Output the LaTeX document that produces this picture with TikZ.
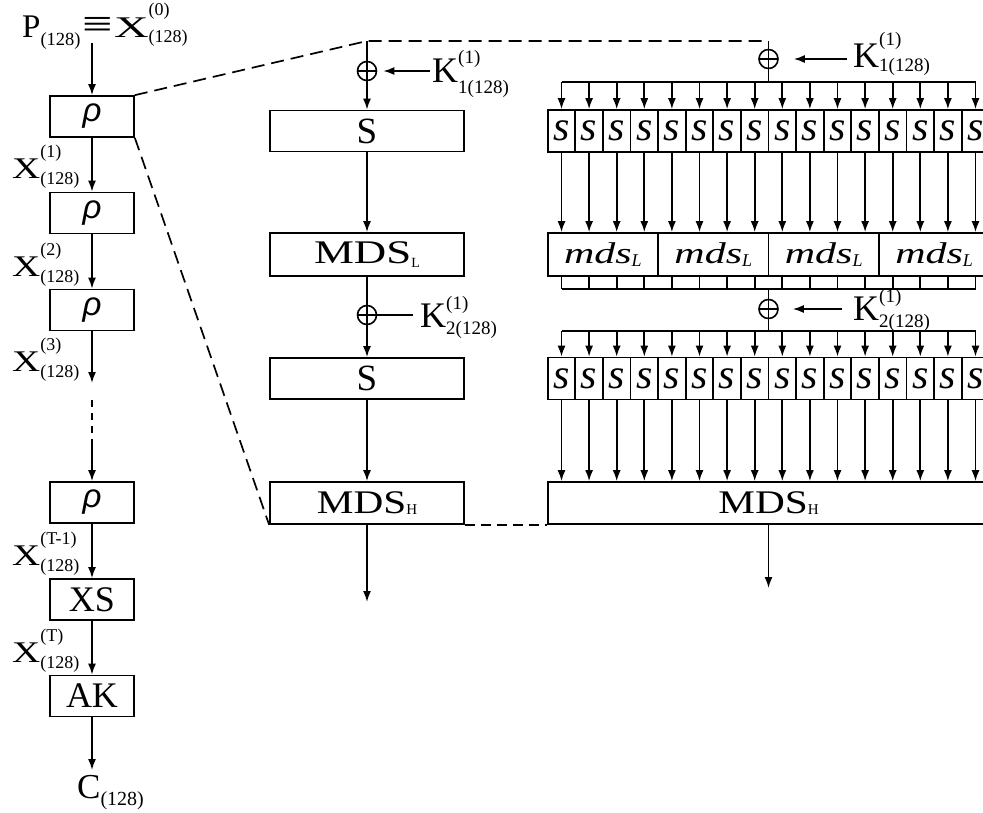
\documentclass[tikz,border=0pt]{standalone}
\usepackage{fontspec}
\setmainfont{Liberation Serif}
\newfontfamily\rhofont{Liberation Sans}
\usetikzlibrary{arrows.meta,calc}
\newcommand\fz[1]{\fontsize{#1}{#1}\selectfont}
% raise, lower, size, sup, sub
\newcommand\supsub[5]{\makebox[0pt][l]{\raisebox{#1}{\fz{#3}#4}}\raisebox{#2}{\fz{#3}#5}}
\newcommand\Xl[1]{{\fz{30}\scalebox{1.3}[1]{X}}\supsub{21pt}{-6pt}{18}{(#1)}{(128)}}
\tikzset{
  ln/.style={line width=1.7pt},
  ar/.style={line width=1.7pt,-{Latex[length=11pt,width=8pt]}},
  dsh/.style={line width=1.7pt,dash pattern=on 13pt off 7pt},
  dshs/.style={line width=1.7pt,dash pattern=on 7pt off 6pt},
  dshm/.style={line width=1.7pt,dash pattern=on 10pt off 6pt},
  box/.style={draw,line width=1.7pt,inner sep=0pt,minimum height=41pt},
  lbox/.style={box,minimum width=84pt},
  mbox/.style={box,minimum width=194pt},
  sbox/.style={box,minimum width=27.6pt,minimum height=42pt,font=\fz{42}\itshape},
  mdsbox/.style={box,minimum width=110.4pt,minimum height=43pt,font=\fz{30}\itshape},
  lab/.style={anchor=base west,inner sep=0pt},
  xo/.style={circle,draw,line width=1.6pt,minimum size=19pt,inner sep=0pt,
    path picture={\draw[line width=1.5pt] (path picture bounding box.north) -- (path picture bounding box.south)
      (path picture bounding box.west) -- (path picture bounding box.east);}}
}
\begin{document}
\begin{tikzpicture}[x=1pt,y=-1pt]
\useasboundingbox (0,0) rectangle (983,812);
\fill[white] (0,0) rectangle (983,812);
\clip (0,0) rectangle (983,812);

% ---------- left column ----------
\node[lab] (P) at (22,37) {\fz{33}P\supsub{0pt}{-8pt}{18.5}{}{(128)}\hspace{2pt}{\fz{40}\scalebox{1.35}[1]{≡}}\hspace{1pt}{\fz{30}\scalebox{1.6}[1]{X}}\supsub{22pt}{-5pt}{18}{(0)}{(128)}};
\coordinate (ptop) at (92,43);
\node[lbox] (rho1) at (92,116.5) {\rhofont\itshape\fz{33}ρ};
\node[lbox] (rho2) at (92,213) {\rhofont\itshape\fz{33}ρ};
\node[lbox] (rho3) at (92,310) {\rhofont\itshape\fz{33}ρ};
\node[lbox] (rho4) at (92,502.5) {\rhofont\itshape\fz{33}ρ};
\node[lbox] (XS) at (92,599.5) {\fz{36}XS};
\node[lbox] (AK) at (92,696) {\fz{36}AK};
\coordinate (e3) at (92,383);
\coordinate (d1) at (92,400);
\coordinate (d2) at (92,445);
\coordinate (cend) at (92,770);

\node[lab] (X1) at (12,178) {\Xl{1}};
\node[lab] (X2) at (12,276) {\Xl{2}};
\node[lab] (X3) at (12,371) {\Xl{3}};
\node[lab] (XT1) at (12,565) {\Xl{T-1}};
\node[lab] (XT) at (12,662) {\Xl{T}};
\node[lab] (C) at (77,798) {\fz{35}C\supsub{0pt}{-7pt}{20}{}{(128)}};

\draw[ar] (ptop) -- (rho1.north);
\draw[ar] (rho1.south) -- (rho2.north);
\draw[ar] (rho2.south) -- (rho3.north);
\draw[ar] (rho3.south) -- (e3);
\draw[dshs] (d1) -- (d2);
\draw[ar] (d2) -- (rho4.north);
\draw[ar] (rho4.south) -- (XS.north);
\draw[ar] (XS.south) -- (AK.north);
\draw[ar] (AK.south) -- (cend);

% ---------- middle column ----------
\coordinate (topM) at (367,41);
\node[xo] (xm1) at (367,71) {};
\node[mbox] (S1) at (367,131) {\fz{37}S};
\node[mbox,minimum height=43pt] (MDSL) at (367,254.5) {\fz{33}\scalebox{1.36}[1]{MDS}\raisebox{-4pt}{\fz{14}L}};
\node[xo] (xm2) at (367,315) {};
\node[mbox] (S2) at (367,378.5) {\fz{37}S};
\node[mbox,minimum height=42pt] (MDSHm) at (367,503) {\fz{33}\scalebox{1.25}[1]{MDS}\raisebox{-1pt}{\fz{15}H}};
\coordinate (outM) at (367,602);

\node[lab] (K1m) at (432,82) {\fz{36}K\supsub{19pt}{-11pt}{19}{(1)}{1(128)}};
\node[lab] (K2m) at (420,327) {\fz{36}K\supsub{18pt}{-7pt}{19}{(1)}{2(128)}};

\draw[ln] (topM) -- (xm1.north);
\draw[ar] (xm1.south) -- (S1.north);
\draw[ar] (S1.south) -- (MDSL.north);
\draw[ln] (MDSL.south) -- (xm2.north);
\draw[ar] (xm2.south) -- (S2.north);
\draw[ar] (S2.south) -- (MDSHm.north);
\draw[ar] (MDSHm.south) -- (outM);
\draw[ar,shorten <=2pt,shorten >=6pt] (K1m.west |- xm1) -- (xm1.east);
\draw[ln,shorten <=7pt] (K2m.west |- xm2) -- (xm2.east);

% ---------- right column ----------
\coordinate (topR) at (768.5,41);
\coordinate (busA) at (768.5,82);
\coordinate (barA) at (768.5,289);
\coordinate (busB) at (768.5,331);
\coordinate (outR) at (768.5,588);
\node[xo] (xr1) at (768.5,59) {};
\node[xo] (xr2) at (768.5,309) {};
\foreach \i in {0,...,15} {
  \pgfmathsetmacro\xx{561.5+27.6*\i}
  \node[sbox] (sa\i) at (\xx,131) {s};
  \node[sbox] (sb\i) at (\xx,378.5) {s};
}
\foreach \j in {0,...,3} {
  \pgfmathsetmacro\xx{602.9+110.4*\j}
  \node[mdsbox] (m\j) at (\xx,254.5) {\scalebox{1.4}[1]{mds}\raisebox{-3pt}{\fz{18}L}};
}
\node[box,minimum width=441.6pt,minimum height=42pt] (MDSHr) at (768.5,503) {\fz{33}\scalebox{1.25}[1]{MDS}\raisebox{-1pt}{\fz{15}H}};

\node[lab] (K1r) at (853,67) {\fz{36}K\supsub{22pt}{-4pt}{19}{(1)}{1(128)}};
\node[lab] (K2r) at (853,320) {\fz{36}K\supsub{18pt}{-7pt}{19}{(1)}{2(128)}};

\draw[ln] (topR) -- (xr1.north);
\draw[ln] (xr1.south) -- (busA);
\draw[ln] (sa0.north |- busA) -- (sa15.north |- busA);
\draw[ln] (sa0.south |- barA) -- (sa15.south |- barA);
\draw[ln] (barA) -- (xr2.north);
\draw[ln] (xr2.south) -- (busB);
\draw[ln] (sb0.north |- busB) -- (sb15.north |- busB);
\foreach \i in {0,...,15} {
  \draw[ar] (sa\i.north |- busA) -- (sa\i.north);
  \draw[ar] (sa\i.south) -- (sa\i.south |- m0.north);
  \draw[ln] (sa\i.south |- m0.south) -- (sa\i.south |- barA);
  \draw[ar] (sb\i.north |- busB) -- (sb\i.north);
  \draw[ar] (sb\i.south) -- (sb\i.south |- MDSHr.north);
}
\draw[ar] (MDSHr.south) -- (outR);
\draw[ar,shorten <=6pt,shorten >=15pt] (K1r.west |- xr1) -- (xr1.east);
\draw[ar,shorten <=11pt,shorten >=14pt] (K2r.west |- xr2) -- (xr2.east);

% ---------- dashed zoom lines ----------
\draw[dsh] (rho1.north east) -- (topM) -- (topR);
\draw[dsh] (rho1.south east) -- (MDSHm.south west);
\draw[dshm] (MDSHm.south east) -- (MDSHr.south west);
\end{tikzpicture}
\end{document}
